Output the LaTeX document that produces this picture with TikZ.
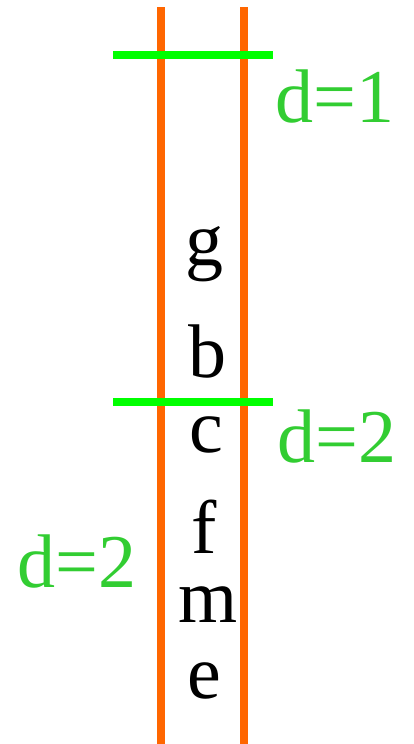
\documentclass[tikz,border=0pt]{standalone}
\usepackage{fontspec}
\setmainfont{Liberation Serif}
\definecolor{lineorange}{RGB}{255,102,0}
\definecolor{linegreen}{RGB}{0,255,0}
\definecolor{textgreen}{RGB}{50,205,50}
\begin{document}
\begin{tikzpicture}[x=1pt,y=-1pt,
  rail/.style={draw=lineorange,line width=8pt},
  cut/.style={draw=linegreen,line width=7.5pt},
  lbl/.style={inner sep=0pt,anchor=base,font=\fontsize{76}{80}\selectfont},
  dlbl/.style={lbl,text=textgreen}]
\useasboundingbox (0,0) rectangle (414,744);
\coordinate (r1t) at (161,7);
\coordinate (r1b) at (161,744);
\coordinate (r2t) at (244,7);
\coordinate (r2b) at (244,744);
\draw[rail] (r1t) -- (r1b);
\draw[rail] (r2t) -- (r2b);
\coordinate (c1l) at (113,55);
\coordinate (c1r) at (273,55);
\coordinate (c2l) at (113,402);
\coordinate (c2r) at (273,402);
\draw[cut] (c1l) -- (c1r);
\draw[cut] (c2l) -- (c2r);
\node[lbl] (g) at (204,265) {g};
\node[lbl] (b) at (207,377) {b};
\node[lbl] (c) at (206,452) {c};
\node[lbl] (f) at (204,553) {f};
\node[lbl] (m) at (208,622) {m};
\node[lbl] (e) at (204,698) {e};
\node[dlbl] (d1) at (335,122) {d=1};
\node[dlbl] (d2r) at (337,462) {d=2};
\node[dlbl] (d2l) at (77,587) {d=2};
\end{tikzpicture}
\end{document}
